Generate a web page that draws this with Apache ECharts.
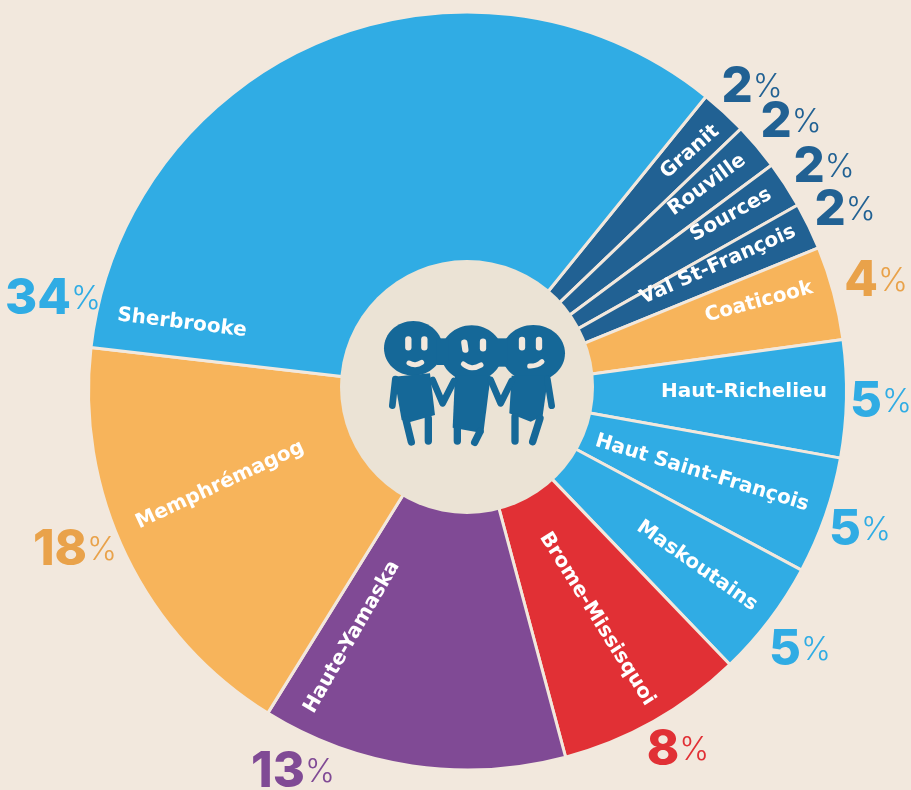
<!DOCTYPE html>
<html>
<head>
<meta charset="utf-8">
<style>
html,body{margin:0;padding:0;background:#f2e8dd;}
#main{width:911px;height:790px;}
</style>
<script src="https://cdn.jsdelivr.net/npm/echarts@6/dist/echarts.min.js"></script>
</head>
<body>
<div id="main"></div>
<script>
var regions = ['Granit','Rouville','Sources','Val St-François','Coaticook','Haut-Richelieu','Haut Saint-François','Maskoutains','Brome-Missisquoi','Haute-Yamaska','Memphrémagog','Sherbrooke'];
var shares = [2,2,2,2,4,5,5,5,8,13,18,34];
var sliceColors = ['#216193','#216193','#216193','#216193','#f7b45b','#30ace4','#30ace4','#30ace4','#e13035','#804a95','#f7b45b','#30ace4'];
var shareColors = ['#216193','#216193','#216193','#216193','#e9a24a','#30ace4','#30ace4','#30ace4','#e13035','#804a95','#e9a24a','#30ace4'];

// where the hand-placed labels sit: [x, y, rotation]
var nameSpots = [[690,152,41],[707,185,36],[731,215,29],[718,265,24],[759,302,15],[744,392,0],[702,473,-17],[697,566,-35],[597,619,-58],[352,637,60],[220,485,25],[182,323,-7]];
var shareSpots = [[752,87],[791,122],[824,167],[845,210],[876,281],[881,402],[860,530],[800,650],[678,750],[293,772],[75,550],[53,299]];

var BG = '#f2e8dd';
var ICON = '#156898';

function sliceData() {
    var out = [];
    for (var i = 0; i < regions.length; i++) {
        out.push({name: regions[i], value: shares[i], itemStyle: {color: sliceColors[i]}});
    }
    return out;
}

function shareData() {
    var out = [];
    for (var i = 0; i < regions.length; i++) {
        out.push({
            name: regions[i],
            value: shares[i],
            label: {
                formatter: '{n|' + shares[i] + '}{p|%}',
                rich: {
                    n: {fontFamily: 'Inter', fontSize: 49, fontWeight: 800, color: shareColors[i]},
                    p: {fontFamily: 'Inter', fontSize: 32, fontWeight: 300, color: shareColors[i]}
                }
            }
        });
    }
    return out;
}

// the three people in the middle, drawn in a 3x box
function limb(points, width, color) {
    return {type: 'polyline', z: 12, shape: {points: points}, style: {stroke: color, lineWidth: width, lineCap: 'round', lineJoin: 'round', fill: null}};
}
function body(points) {
    return {type: 'polygon', z: 12, shape: {points: points}, style: {fill: ICON}};
}
function head(cx, cy, rx, ry) {
    return {type: 'ellipse', z: 12, shape: {cx: cx, cy: cy, rx: rx, ry: ry}, style: {fill: ICON}};
}
function smile(points) {
    return {type: 'polyline', z: 13, shape: {points: points, smooth: 0.5}, style: {stroke: BG, lineWidth: 15, lineCap: 'round', fill: null}};
}
function eye(points) {
    var e = limb(points, 19, BG);
    e.z = 13;
    return e;
}

var people = [
    head(130,130,88,82), head(305,145,92,84), head(490,145,95,85),
    body([[200,100],[235,100],[235,180],[200,180]]),
    body([[378,100],[412,100],[412,185],[378,185]]),
    body([[72,215],[180,205],[195,330],[118,352],[95,345]]),
    body([[255,212],[362,212],[340,385],[248,368]]),
    body([[425,212],[535,212],[518,332],[482,350],[418,325]]),
    limb([[76,222],[67,302]],20,ICON),
    limb([[108,345],[124,411]],22,ICON),
    limb([[175,340],[175,408]],22,ICON),
    limb([[188,225],[218,295],[252,228]],20,ICON),
    limb([[262,370],[262,408]],22,ICON),
    limb([[330,380],[314,412]],22,ICON),
    limb([[362,225],[392,295],[425,228]],20,ICON),
    limb([[435,335],[435,408]],22,ICON),
    limb([[510,340],[488,410]],22,ICON),
    limb([[532,222],[545,302]],20,ICON),
    eye([[115,103],[115,127]]),
    eye([[163,103],[163,127]]),
    eye([[283,113],[286,134]]),
    eye([[339,110],[339,130]]),
    eye([[456,105],[456,127]]),
    eye([[507,105],[507,127]]),
    smile([[117,174],[136,179],[155,172]]),
    smile([[280,177],[305,188],[333,180]]),
    smile([[479,183],[500,180],[516,170]])
];

var myChart = echarts.init(document.getElementById('main'));
var option = {
    backgroundColor: BG,
    animation: false,
    graphic: {
        elements: [
            {type: 'circle', z: 10, shape: {cx: 467, cy: 387, r: 127}, style: {fill: '#ebe3d5'}},
            {type: 'group', x: 370, y: 305, scaleX: 1/3, scaleY: 1/3, children: people}
        ]
    },
    series: [
        {
            type: 'pie',
            center: [467.5, 391],
            radius: [120, 379],
            startAngle: 51,
            silent: true,
            data: sliceData(),
            itemStyle: {borderColor: BG, borderWidth: 3},
            label: {
                position: 'inside',
                formatter: '{b}',
                color: '#fff',
                fontFamily: 'DejaVu Sans',
                fontSize: 20,
                fontWeight: 700
            },
            labelLine: {show: false},
            labelLayout: function (p) {
                var s = nameSpots[p.dataIndex];
                return {x: s[0], y: s[1], rotate: s[2], align: 'center', verticalAlign: 'middle'};
            }
        },
        {
            type: 'pie',
            center: [467.5, 391],
            radius: [120, 379],
            startAngle: 51,
            silent: true,
            data: shareData(),
            itemStyle: {color: 'rgba(0,0,0,0)'},
            label: {position: 'inside'},
            labelLine: {show: false},
            labelLayout: function (p) {
                var s = shareSpots[p.dataIndex];
                return {x: s[0], y: s[1], align: 'center', verticalAlign: 'middle'};
            }
        }
    ]
};
myChart.setOption(option);
</script>
</body>
</html>
